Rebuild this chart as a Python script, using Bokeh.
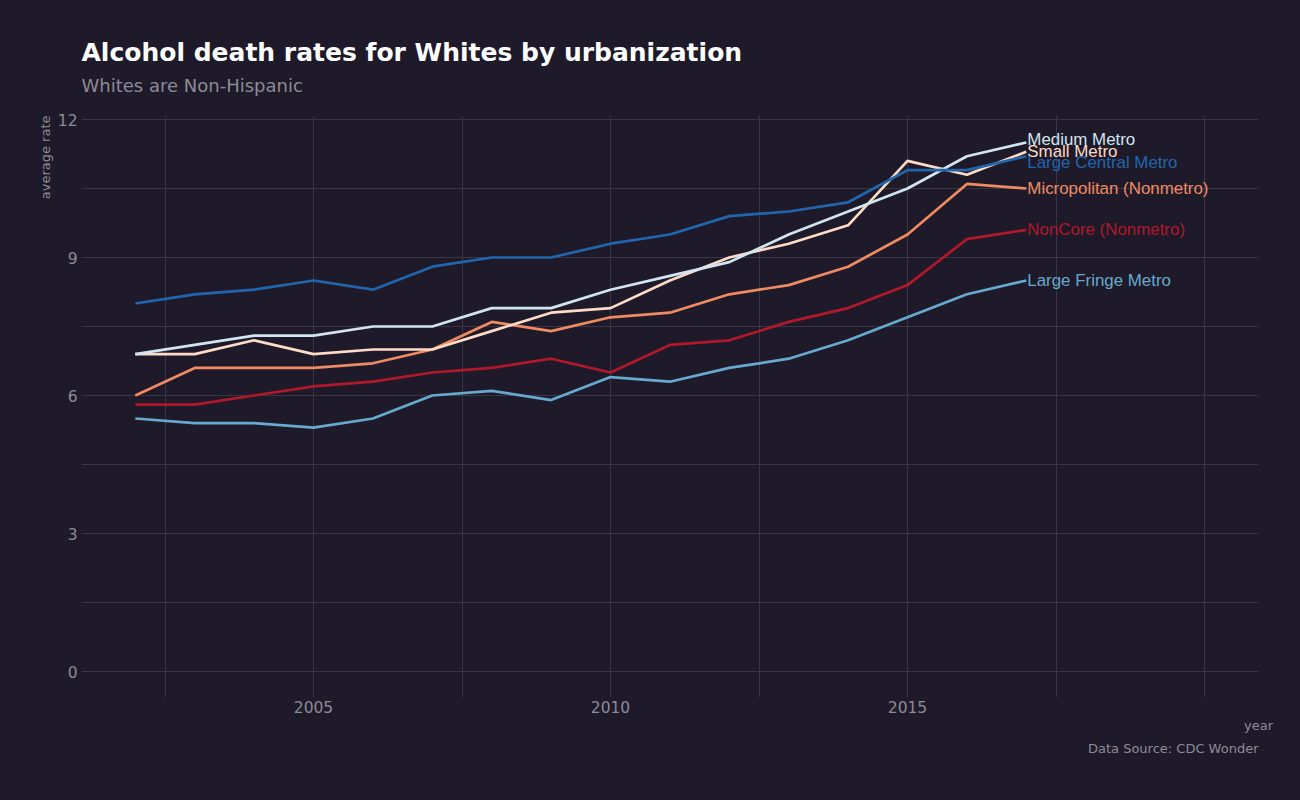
from bokeh.plotting import figure
from bokeh.models import FixedTicker, Title, ColumnDataSource, Range1d
from bokeh.core.properties import value
from bokeh.embed import file_html
from bokeh.resources import INLINE

# ---------------- data ----------------
years = list(range(2002, 2018))

large_central_metro = [8.0, 8.2, 8.3, 8.5, 8.3, 8.8, 9.0, 9.0, 9.3, 9.5, 9.9, 10.0, 10.2, 10.9, 10.9, 11.2]
medium_metro        = [6.9, 7.1, 7.3, 7.3, 7.5, 7.5, 7.9, 7.9, 8.3, 8.6, 8.9, 9.5, 10.0, 10.5, 11.2, 11.5]
small_metro         = [6.9, 6.9, 7.2, 6.9, 7.0, 7.0, 7.4, 7.8, 7.9, 8.5, 9.0, 9.3, 9.7, 11.1, 10.8, 11.3]
micropolitan        = [6.0, 6.6, 6.6, 6.6, 6.7, 7.0, 7.6, 7.4, 7.7, 7.8, 8.2, 8.4, 8.8, 9.5, 10.6, 10.5]
noncore             = [5.8, 5.8, 6.0, 6.2, 6.3, 6.5, 6.6, 6.8, 6.5, 7.1, 7.2, 7.6, 7.9, 8.4, 9.4, 9.6]
large_fringe_metro  = [5.5, 5.4, 5.4, 5.3, 5.5, 6.0, 6.1, 5.9, 6.4, 6.3, 6.6, 6.8, 7.2, 7.7, 8.2, 8.5]

series_names = ["NonCore (Nonmetro)", "Micropolitan (Nonmetro)", "Small Metro",
                "Medium Metro", "Large Fringe Metro", "Large Central Metro"]
series_values = [noncore, micropolitan, small_metro, medium_metro, large_fringe_metro, large_central_metro]

x_tick_labels = [2005, 2010, 2015]
y_tick_labels = [0, 3, 6, 9, 12]

# ---------------- styles ----------------
colors = ["#b2182b", "#ef8a62", "#fddbc7", "#d1e5f0", "#67a9cf", "#2166ac"]
label_nudge = [0.0, 0.0, 0.0, 0.07, 0.0, -0.14]   # small repel of end labels
BG = "#1e1a29"
GRID = "#393545"
GREY = "#8e8a96"
FONT = "DejaVu Sans"

p = figure(width=1300, height=800, output_backend="svg", toolbar_location=None,
           x_range=Range1d(2001.094, 2020.909), y_range=Range1d(-0.565, 12.087),
           title="Alcohol death rates for Whites by urbanization",
           min_border_left=81, min_border_right=42, min_border_top=115, min_border_bottom=103)

p.background_fill_color = BG
p.border_fill_color = BG
p.outline_line_color = None
p.styles = {"background-color": BG}

# panels above the frame: first added sits closest to the frame, the plot title is outermost
spacer = Title(text=" ", text_font=FONT, text_font_size="10px", standoff=3)
p.add_layout(spacer, "above")
subtitle = Title(text="Whites are Non-Hispanic", align="left",
                 text_font=FONT, text_font_size="18px", text_font_style="normal",
                 text_color=GREY, standoff=8)
p.add_layout(subtitle, "above")

p.title.text_font = FONT
p.title.text_font_size = "25px"
p.title.text_font_style = "bold"
p.title.text_color = "#ffffff"
p.title.align = "left"
p.title.standoff = 4

# axes
for ax in (p.xaxis[0], p.yaxis[0]):
    ax.axis_line_color = None
    ax.major_tick_line_color = None
    ax.minor_tick_line_color = None
    ax.major_tick_out = 0
    ax.major_tick_in = 0
    ax.major_label_text_font = FONT
    ax.major_label_text_font_size = "15.5px"
    ax.major_label_text_color = GREY
    ax.axis_label_text_font = FONT
    ax.axis_label_text_font_size = "13px"
    ax.axis_label_text_font_style = "normal"
    ax.axis_label_text_color = GREY

p.xaxis.ticker = FixedTicker(ticks=x_tick_labels)
p.yaxis.ticker = FixedTicker(ticks=y_tick_labels)
p.xaxis.axis_label = "year"
p.xaxis.axis_label_align = "end"
p.xaxis.major_label_standoff = 3
p.yaxis.major_label_standoff = 4
p.xaxis.axis_label_standoff = 2

# y-axis title: a side title placed left of the tick labels, top-aligned with the frame
ytitle = Title(text="average rate", align="right", text_font=FONT, text_font_size="13px",
               text_font_style="normal", text_color=GREY, standoff=4)
p.add_layout(ytitle, "left")

caption = Title(text="Data Source: CDC Wonder", align="right", text_font=FONT,
                text_font_size="13px", text_font_style="normal", text_color=GREY, standoff=6)
p.add_layout(caption, "below")

# grid
p.xgrid.ticker = FixedTicker(ticks=[2002.5 + 2.5 * i for i in range(8)])
p.ygrid.ticker = FixedTicker(ticks=[1.5 * i for i in range(9)])
p.xgrid.grid_line_color = GRID
p.ygrid.grid_line_color = GRID
p.xgrid.grid_line_width = 1
p.ygrid.grid_line_width = 1

# lines
for name, vals, col in zip(series_names, series_values, colors):
    p.line(years, vals, line_color=col, line_width=2.7)

# end labels
lab = ColumnDataSource(dict(
    x=[years[-1]] * len(series_names),
    y=[v[-1] + n for v, n in zip(series_values, label_nudge)],
    text=series_names,
    color=colors,
))
p.text(x="x", y="y", text="text", source=lab, text_color="color",
       text_font=value("Liberation Sans"), text_font_size="16.9px",
       text_align="left", text_baseline="middle", x_offset=1)

open("out.html", "w").write(file_html(p, INLINE))
